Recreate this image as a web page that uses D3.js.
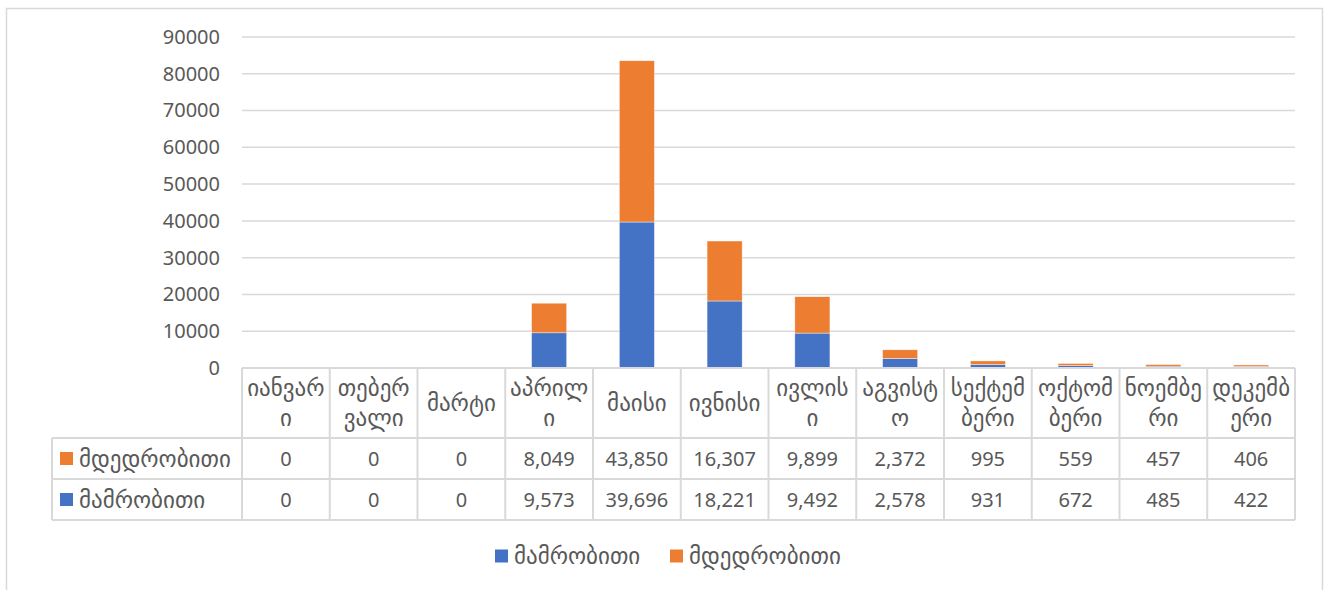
<!DOCTYPE html>
<html>
<head>
<meta charset="utf-8">
<script src="https://cdn.jsdelivr.net/npm/d3@7"></script>
<style>
  html, body { margin: 0; padding: 0; background: #fff; }
  svg { display: block; font-family: "Noto Sans", "Open Sans", "DejaVu Sans", sans-serif; }
</style>
</head>
<body>
<svg id="chart" width="1329" height="590"></svg>
<script>
// Monthly counts by sex (stacked columns with a data table below)
const months = ["იანვარი", "თებერვალი", "მარტი", "აპრილი", "მაისი", "ივნისი",
                "ივლისი", "აგვისტო", "სექტემბერი", "ოქტომბერი", "ნოემბერი", "დეკემბერი"];
const seriesNames = ["მამრობითი", "მდედრობითი"];
const male   = [0, 0, 0, 9573, 39696, 18221, 9492, 2578, 931, 672, 485, 422];
const female = [0, 0, 0, 8049, 43850, 16307, 9899, 2372, 995, 559, 457, 406];
const yTicks = [0, 10000, 20000, 30000, 40000, 50000, 60000, 70000, 80000, 90000];

const colors = { "მამრობითი": "#4472C4", "მდედრობითი": "#ED7D31" };
const textColor = "#595959";
const lineColor = "#D9D9D9";
const fs = 20;      // numbers
const geoFs = 23;   // Georgian labels

const svg = d3.select("#chart");

// chart frame
svg.append("rect")
  .attr("x", 6.5).attr("y", 8.5).attr("width", 1316).attr("height", 600)
  .attr("fill", "#fff").attr("stroke", lineColor).attr("stroke-width", 1.5);

const plot = { left: 242, right: 1295, top: 37, bottom: 368 };

const x = d3.scaleBand().domain(months).range([plot.left, plot.right]).paddingInner(0.6).paddingOuter(0.3);
const cell = d3.scaleBand().domain(months).range([plot.left, plot.right]);
const y = d3.scaleLinear().domain([0, 90000]).range([plot.bottom, plot.top]);

// gridlines
svg.append("g").selectAll("line").data(yTicks.filter(d => d > 0)).join("line")
  .attr("x1", plot.left).attr("x2", plot.right)
  .attr("y1", d => y(d)).attr("y2", d => y(d))
  .attr("stroke", lineColor).attr("stroke-width", 1.5);

// y axis labels
const yAxis = d3.axisLeft(y).tickValues(yTicks).tickSize(0).tickPadding(22).tickFormat(d3.format("d"));
const gy = svg.append("g").attr("transform", `translate(${plot.left},0)`).call(yAxis);
gy.select(".domain").remove();
gy.selectAll("text").attr("fill", textColor).style("font-size", fs + "px")
  .style("font-family", "\"Noto Sans\", \"Open Sans\", sans-serif");

// stacked bars
const rows = months.map((m, i) => ({ month: m, "მამრობითი": male[i], "მდედრობითი": female[i] }));
const stacked = d3.stack().keys(seriesNames)(rows);
svg.append("g").selectAll("g").data(stacked).join("g")
  .attr("fill", s => colors[s.key])
  .selectAll("rect").data(s => s.filter(d => d[1] - d[0] > 0)).join("rect")
  .attr("x", d => x(d.data.month))
  .attr("width", x.bandwidth())
  .attr("y", d => y(d[1]))
  .attr("height", d => y(d[0]) - y(d[1]))
  .attr("stroke", "#fff").attr("stroke-width", 0.6).attr("stroke-opacity", 0.7);

// data table
const headTop = plot.bottom, headBottom = 438, row1Bottom = 479, row2Bottom = 520;
const tableLeft = 52;
const tg = svg.append("g").attr("stroke", lineColor).attr("stroke-width", 2).attr("fill", "none");
[[plot.left, plot.right, headTop], [tableLeft, plot.right, headBottom],
 [tableLeft, plot.right, row1Bottom], [tableLeft, plot.right, row2Bottom]].forEach(([a, b, yy]) =>
  tg.append("line").attr("x1", a).attr("x2", b).attr("y1", yy).attr("y2", yy));
tg.append("line").attr("x1", tableLeft).attr("x2", tableLeft).attr("y1", headBottom).attr("y2", row2Bottom);
months.forEach(m => tg.append("line").attr("x1", cell(m)).attr("x2", cell(m)).attr("y1", headTop).attr("y2", row2Bottom));
tg.append("line").attr("x1", plot.right).attr("x2", plot.right).attr("y1", headTop).attr("y2", row2Bottom);

// header cells: month names wrapped to the cell width
const maxW = 81;
const heads = svg.append("g").selectAll("text").data(months).join("text")
  .attr("text-anchor", "middle").attr("fill", textColor).style("font-size", geoFs + "px");
heads.each(function (m) {
  const t = d3.select(this);
  const chars = Array.from(m);
  const lines = [];
  let cur = "";
  const probe = t.append("tspan");
  chars.forEach(ch => {
    probe.text(cur + ch);
    if (cur && probe.node().getComputedTextLength() > maxW) { lines.push(cur); cur = ch; }
    else cur += ch;
  });
  lines.push(cur);
  probe.remove();
  const cx = cell(m) + cell.bandwidth() / 2;
  const lh = 30, mid = (headTop + headBottom) / 2;
  const y0 = mid - (lines.length - 1) * lh / 2;
  lines.forEach((ln, k) => t.append("tspan").attr("x", cx).attr("y", y0 + k * lh).attr("dy", "0.35em").text(ln));
});

// value rows: female first, then male
const fmt = d3.format(",");
const tableRows = [
  { name: "მდედრობითი", values: female, top: headBottom, bottom: row1Bottom },
  { name: "მამრობითი", values: male, top: row1Bottom, bottom: row2Bottom }
];
tableRows.forEach(r => {
  const cy = (r.top + r.bottom) / 2;
  svg.append("rect").attr("x", 60).attr("y", cy - 6.5).attr("width", 13).attr("height", 13).attr("fill", colors[r.name]);
  svg.append("text").attr("x", 79).attr("y", cy).attr("dy", "0.35em").attr("fill", textColor)
    .style("font-size", geoFs + "px").text(r.name);
  svg.append("g").selectAll("text").data(r.values).join("text")
    .attr("x", (d, i) => cell(months[i]) + cell.bandwidth() / 2)
    .attr("y", cy).attr("dy", "0.35em").attr("text-anchor", "middle")
    .attr("fill", textColor).style("font-size", fs + "px")
    .text(d => fmt(d));
});

// legend
const legendItems = [{ name: "მამრობითი", x: 495 }, { name: "მდედრობითი", x: 670 }];
const lg = svg.append("g").selectAll("g").data(legendItems).join("g")
  .attr("transform", d => `translate(${d.x},556)`);
lg.append("rect").attr("x", 0).attr("y", -6.5).attr("width", 13).attr("height", 13).attr("fill", d => colors[d.name]);
lg.append("text").attr("x", 19).attr("y", 0).attr("dy", "0.35em").attr("fill", textColor)
  .style("font-size", geoFs + "px").text(d => d.name);
</script>
</body>
</html>
